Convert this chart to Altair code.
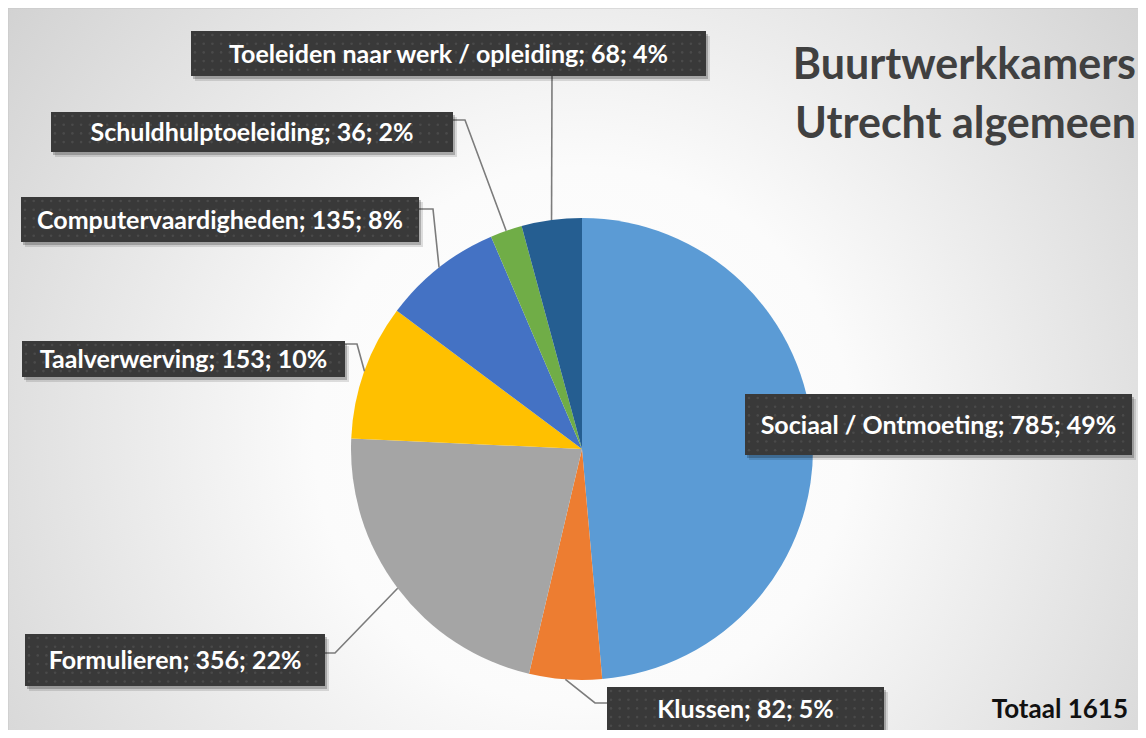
import math
import altair as alt
import pandas as pd

# ---- data ----
categories = ["Sociaal / Ontmoeting", "Klussen", "Formulieren", "Taalverwerving",
              "Computervaardigheden", "Schuldhulptoeleiding",
              "Toeleiden naar werk / opleiding"]
values = [785, 82, 356, 153, 135, 36, 68]
percents = [49, 5, 22, 10, 8, 2, 4]
colors = ["#5B9BD5", "#ED7D31", "#A5A5A5", "#FFC000", "#4472C4", "#70AD47", "#255E91"]
title_lines = ["Buurtwerkkamers", "Utrecht algemeen"]
total_label = "Totaal 1615"

# ---- layout (page pixels) ----
OFF = 8
W, H = 1130, 722
CX, CY, R = 582 - OFF, 449 - OFF, 231
# label boxes: x1, x2, y1, y2
boxes = [
    (745, 1132, 394, 455),
    (607, 884, 687, 731),
    (25, 325, 634, 686),
    (22, 345, 341, 377),
    (21, 419, 197, 242),
    (51, 453, 112, 152),
    (191, 706, 31, 76),
]
# leader points from the box towards the slice (slice end is computed)
leaders = [
    None,
    [(607, 703), (595, 703)],
    [(325, 653), (335, 653)],
    [(345, 344), (357, 344)],
    [(419, 209), (433, 209)],
    [(453, 120), (465, 120)],
    [(552, 76)],
]

total = sum(values)
xs = alt.Scale(domain=[0, W], nice=False, zero=False)
ys = alt.Scale(domain=[0, H], nice=False, zero=False, reverse=True)

# background
bg_df = pd.DataFrame({"x": [0], "x2": [W + 20], "y": [0], "y2": [H + 20]})
grad = alt.RadialGradient(
    gradient="radial", x1=0.5, y1=0.55, r1=0.0, x2=0.5, y2=0.55, r2=0.78,
    stops=[alt.GradientStop(color="#ffffff", offset=0),
           alt.GradientStop(color="#fbfbfb", offset=0.3),
           alt.GradientStop(color="#dcdcdc", offset=0.68),
           alt.GradientStop(color="#c2c2c2", offset=1)])
bg = alt.Chart(bg_df).mark_rect(fill=grad, stroke="#c8c8c8", strokeWidth=1).encode(
    x=alt.X("x:Q", scale=xs, axis=None), x2="x2:Q",
    y=alt.Y("y:Q", scale=ys, axis=None), y2="y2:Q")

# pie
pie_df = pd.DataFrame({"cat": categories, "value": values, "idx": list(range(len(values)))})
pie = alt.Chart(pie_df).mark_arc(radius=R).encode(
    theta=alt.Theta("value:Q", stack=True),
    color=alt.Color("cat:N", scale=alt.Scale(domain=categories, range=colors), legend=None),
    order=alt.Order("idx:Q"),
    x=alt.value(CX), y=alt.value(CY))

# leader lines
rows = []
cum = 0
for i, v in enumerate(values):
    mid = (cum + v / 2) / total * 2 * math.pi
    cum += v
    if leaders[i] is None:
        continue
    pts = [(px - OFF, py - OFF) for px, py in leaders[i]]
    pts.append((CX + R * math.sin(mid), CY - R * math.cos(mid)))
    for k, (px, py) in enumerate(pts):
        rows.append({"cat": categories[i], "k": k, "x": px, "y": py})
lead_df = pd.DataFrame(rows)
lead = alt.Chart(lead_df).mark_line(color="#7c7c7c", strokeWidth=1.6).encode(
    x=alt.X("x:Q", scale=xs, axis=None), y=alt.Y("y:Q", scale=ys, axis=None),
    detail="cat:N", order="k:Q")

# label boxes
box_df = pd.DataFrame({
    "cat": categories,
    "x1": [b[0] - OFF for b in boxes], "x2": [b[1] - OFF for b in boxes],
    "y1": [b[2] - OFF for b in boxes], "y2": [b[3] - OFF for b in boxes],
    "label": [f"{c}; {v}; {p}%" for c, v, p in zip(categories, values, percents)],
})
box_df["xc"] = (box_df.x1 + box_df.x2) / 2
box_df["yc"] = (box_df.y1 + box_df.y2) / 2 + 1
for k, (dx, dy) in enumerate([(2, 3), (4, 5)]):
    box_df[f"sx1_{k}"] = box_df.x1 + dx
    box_df[f"sx2_{k}"] = box_df.x2 + dx
    box_df[f"sy1_{k}"] = box_df.y1 + dy
    box_df[f"sy2_{k}"] = box_df.y2 + dy

shadows = []
for k, op in enumerate([0.22, 0.12]):
    shadows.append(alt.Chart(box_df).mark_rect(fill="#000000", opacity=op).encode(
        x=alt.X(f"sx1_{k}:Q", scale=xs, axis=None), x2=f"sx2_{k}:Q",
        y=alt.Y(f"sy1_{k}:Q", scale=ys, axis=None), y2=f"sy2_{k}:Q"))

box = alt.Chart(box_df).mark_rect(fill="#393939").encode(
    x=alt.X("x1:Q", scale=xs, axis=None), x2="x2:Q",
    y=alt.Y("y1:Q", scale=ys, axis=None), y2="y2:Q")

# dotted texture of the label boxes
STEP = 8.7
tex = []
for b in boxes:
    x0, x1_, y0, y1_ = b[0] - OFF, b[1] - OFF, b[2] - OFF, b[3] - OFF
    yy = y0 + 4
    while yy < y1_ - 2:
        xx = x0 + 4
        while xx < x1_ - 2:
            tex.append({"x": xx, "y": yy})
            xx += STEP
        yy += STEP
tex_df = pd.DataFrame(tex)
texture = alt.Chart(tex_df).mark_circle(size=7, color="#4f4f4f", opacity=0.8).encode(
    x=alt.X("x:Q", scale=xs, axis=None), y=alt.Y("y:Q", scale=ys, axis=None))

labels = alt.Chart(box_df).mark_text(
    font="Lato", fontWeight="bold", fontSize=25, color="#ffffff",
    align="center", baseline="middle").encode(
    x=alt.X("xc:Q", scale=xs, axis=None), y=alt.Y("yc:Q", scale=ys, axis=None),
    text="label:N")

# title & total
title_df = pd.DataFrame({"t": title_lines, "x": [1136 - OFF] * 2, "y": [79 - OFF, 138 - OFF]})
title = alt.Chart(title_df).mark_text(
    font="Lato", fontWeight="bold", fontSize=43, color="#404040",
    align="right", baseline="alphabetic").encode(
    x=alt.X("x:Q", scale=xs, axis=None), y=alt.Y("y:Q", scale=ys, axis=None), text="t:N")

tot_df = pd.DataFrame({"t": [total_label], "x": [1128 - OFF], "y": [718 - OFF]})
tot = alt.Chart(tot_df).mark_text(
    font="Lato", fontWeight="bold", fontSize=26, color="#111111",
    align="right", baseline="alphabetic").encode(
    x=alt.X("x:Q", scale=xs, axis=None), y=alt.Y("y:Q", scale=ys, axis=None), text="t:N")

chart = alt.layer(bg, pie, lead, *shadows, box, texture, labels, title, tot).properties(
    width=W, height=H, padding=0, autosize="none"
).configure_view(stroke=None)

chart.save("out.html", embed_options={"renderer": "svg", "actions": False})
